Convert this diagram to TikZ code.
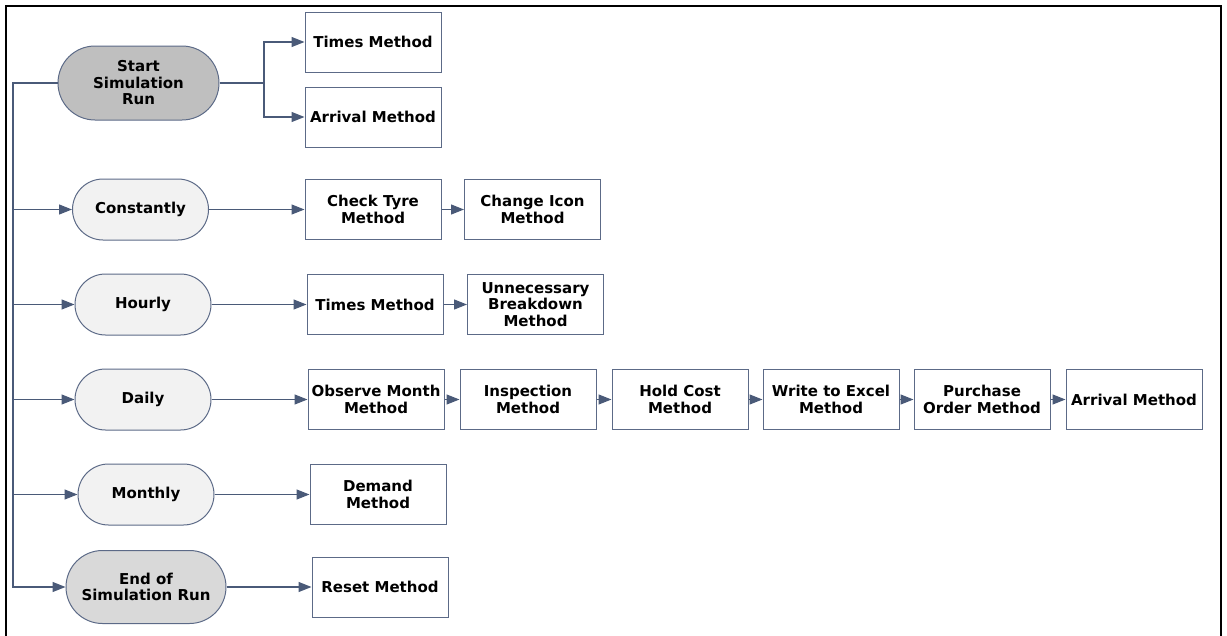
\documentclass[tikz,border=0pt]{standalone}
\usepackage{fontspec}
\setmainfont{DejaVu Sans}
\usetikzlibrary{arrows.meta,shapes.misc}
\definecolor{ln}{HTML}{4A5A78}
\definecolor{bx}{HTML}{5C6A87}
\definecolor{lightfill}{HTML}{F2F2F2}
\definecolor{startfill}{HTML}{BFBFBF}
\definecolor{endfill}{HTML}{D9D9D9}
\begin{document}
\begin{tikzpicture}[x=1pt,y=-1pt,
 every node/.style={font=\fontsize{15}{16.5}\selectfont\bfseries, align=center, inner sep=0pt},
 box/.style={draw=bx, line width=1pt, fill=white, minimum width=136pt, minimum height=60pt},
 pill/.style={draw=bx, line width=1pt, rounded rectangle, minimum width=136pt, minimum height=61pt, fill=lightfill},
 conn/.style={draw=ln, line width=1.3pt, -{Triangle[length=13pt,width=10pt]}},
 plain/.style={draw=ln, line width=1.3pt}]
\useasboundingbox (0,0) rectangle (1227,635);
\draw[line width=2pt] (6,640) -- (6,6) -- (1221,6) -- (1221,640);

\node[pill, fill=startfill, minimum width=161pt, minimum height=74pt] (start) at (138.5,83) {Start\\Simulation\\Run};
\node[box] (tm1) at (373,42) {Times Method};
\node[box] (ar1) at (373,117) {Arrival Method};

\node[pill] (const) at (140.5,209.5) {Constantly};
\node[box] (ct) at (373,209.5) {Check Tyre\\Method};
\node[box] (ci) at (532.5,209.5) {Change Icon\\Method};

\node[pill] (hourly) at (143,304.5) {Hourly};
\node[box] (tm2) at (375,304.5) {Times Method};
\node[box] (ub) at (535.5,304.5) {Unnecessary\\Breakdown\\Method};

\node[pill] (daily) at (143,399.5) {Daily};
\node[box] (om) at (376,399.5) {Observe Month\\Method};
\node[box] (insp) at (528,399.5) {Inspection\\Method};
\node[box] (hc) at (680,399.5) {Hold Cost\\Method};
\node[box] (we) at (831,399.5) {Write to Excel\\Method};
\node[box] (po) at (982,399.5) {Purchase\\Order Method};
\node[box] (ar2) at (1134,399.5) {Arrival Method};

\node[pill] (monthly) at (146,494.5) {Monthly};
\node[box] (dem) at (378,494.5) {Demand\\Method};

\node[pill, fill=endfill, minimum width=160pt, minimum height=73pt] (endn) at (146,587) {End of\\Simulation Run};
\node[box] (reset) at (380,587) {Reset Method};

% left bus
\coordinate (bt) at (13,83);
\draw[conn] (start.west) -- (bt) |- (endn.west);
\draw[conn] (bt |- const.west) -- (const.west);
\draw[conn] (bt |- hourly.west) -- (hourly.west);
\draw[conn] (bt |- daily.west) -- (daily.west);
\draw[conn] (bt |- monthly.west) -- (monthly.west);

% start branch
\coordinate (sj) at (264,83);
\draw[plain] (start.east) -- (sj);
\draw[conn] (sj) |- (tm1.west);
\draw[conn] (sj) |- (ar1.west);

% rows
\draw[conn] (const.east) -- (ct.west);
\draw[conn] (ct.east) -- (ci.west);
\draw[conn] (hourly.east) -- (tm2.west);
\draw[conn] (tm2.east) -- (ub.west);
\draw[conn] (daily.east) -- (om.west);
\draw[conn] (om.east) -- (insp.west);
\draw[conn] (insp.east) -- (hc.west);
\draw[conn] (hc.east) -- (we.west);
\draw[conn] (we.east) -- (po.west);
\draw[conn] (po.east) -- (ar2.west);
\draw[conn] (monthly.east) -- (dem.west);
\draw[conn] (endn.east) -- (reset.west);
\end{tikzpicture}
\end{document}
